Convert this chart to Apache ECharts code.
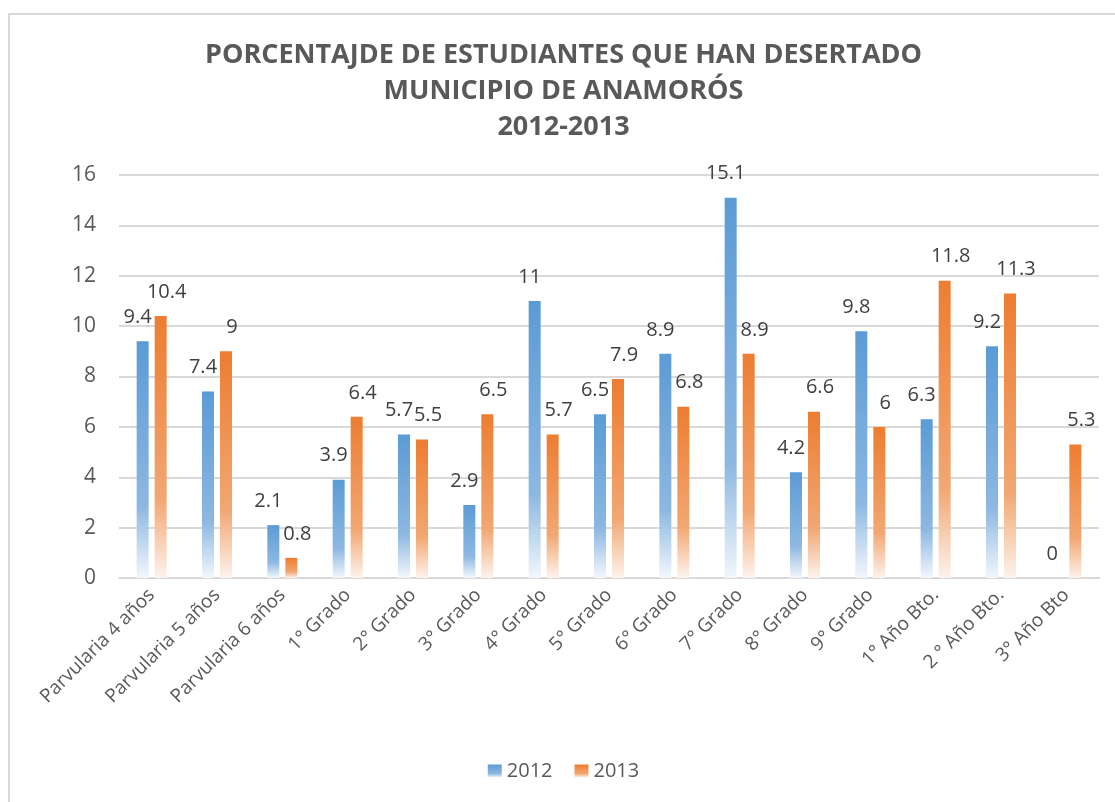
<!DOCTYPE html>
<html>
<head>
<meta charset="utf-8">
<script src="https://cdn.jsdelivr.net/npm/echarts@6/dist/echarts.min.js"></script>
<style>
  html, body { margin: 0; padding: 0; background: #ffffff; }
  #chart {
    position: absolute;
    left: 8px;
    top: 13px;
    width: 1107px;
    height: 789px;
    border-left: 2px solid #d9d9d9;
    border-top: 2px solid #d9d9d9;
  }
</style>
</head>
<body>
<div id="chart"></div>
<script>
const categories = ['Parvularia 4 años', 'Parvularia 5 años', 'Parvularia 6 años', '1° Grado', '2° Grado',
  '3° Grado', '4° Grado', '5° Grado', '6° Grado', '7° Grado', '8° Grado', '9° Grado',
  '1° Año Bto.', '2 ° Año Bto.', '3° Año Bto'];
const values2012 = [9.4, 7.4, 2.1, 3.9, 5.7, 2.9, 11, 6.5, 8.9, 15.1, 4.2, 9.8, 6.3, 9.2, 0];
const values2013 = [10.4, 9, 0.8, 6.4, 5.5, 6.5, 5.7, 7.9, 6.8, 8.9, 6.6, 6, 11.8, 11.3, 5.3];
const seriesNames = ['2012', '2013'];

const font = '"Open Sans", sans-serif';
const textColor = '#595959';

// degradado vertical: color sólido arriba, casi blanco abajo
function fade(solid, mid, light) {
  return {
    type: 'linear', x: 0, y: 0, x2: 0, y2: 1,
    colorStops: [
      { offset: 0, color: solid },
      { offset: 0.7, color: mid },
      { offset: 1, color: light }
    ]
  };
}

const blue = fade('#5b9bd5', '#8db8e2', '#f2f7fc');
const orange = fade('#ed7d31', '#f2a772', '#fdf3ec');

function barSeries(name, data, color, dx) {
  return {
    name: name,
    type: 'bar',
    data: data,
    barWidth: 12,
    barGap: '50%',
    itemStyle: { color: color },
    label: {
      show: true,
      position: 'top',
      distance: 14,
      offset: [dx, 0],
      color: '#404040',
      fontFamily: font,
      fontSize: 20
    }
  };
}

const chart = echarts.init(document.getElementById('chart'));
chart.setOption({
  animation: false,
  textStyle: { fontFamily: font },
  title: {
    text: 'PORCENTAJDE DE ESTUDIANTES QUE HAN DESERTADO\nMUNICIPIO DE ANAMORÓS\n2012-2013',
    left: 'center',
    top: 17,
    textStyle: {
      fontFamily: font,
      fontSize: 27,
      fontWeight: 'bold',
      color: textColor,
      lineHeight: 36
    }
  },
  legend: {
    bottom: 18,
    left: 'center',
    icon: 'rect',
    itemWidth: 14,
    itemHeight: 13,
    itemGap: 22,
    textStyle: { fontFamily: font, fontSize: 20, color: textColor },
    data: seriesNames
  },
  grid: { left: 109, right: 18, top: 160, bottom: 226 },
  xAxis: {
    type: 'category',
    data: categories,
    axisTick: { show: false },
    axisLine: { lineStyle: { color: '#d9d9d9', width: 2 } },
    axisLabel: {
      interval: 0,
      rotate: 45,
      margin: 14,
      fontFamily: font,
      fontSize: 19,
      color: textColor
    }
  },
  yAxis: {
    type: 'value',
    min: 0,
    max: 16,
    interval: 2,
    axisLine: { show: false },
    axisTick: { show: false },
    splitLine: { lineStyle: { color: '#d9d9d9', width: 2 } },
    axisLabel: {
      margin: 23,
      fontFamily: font,
      fontSize: 21,
      color: textColor
    }
  },
  series: [
    barSeries(seriesNames[0], values2012, blue, -5),
    barSeries(seriesNames[1], values2013, orange, 6)
  ]
});
</script>
</body>
</html>
